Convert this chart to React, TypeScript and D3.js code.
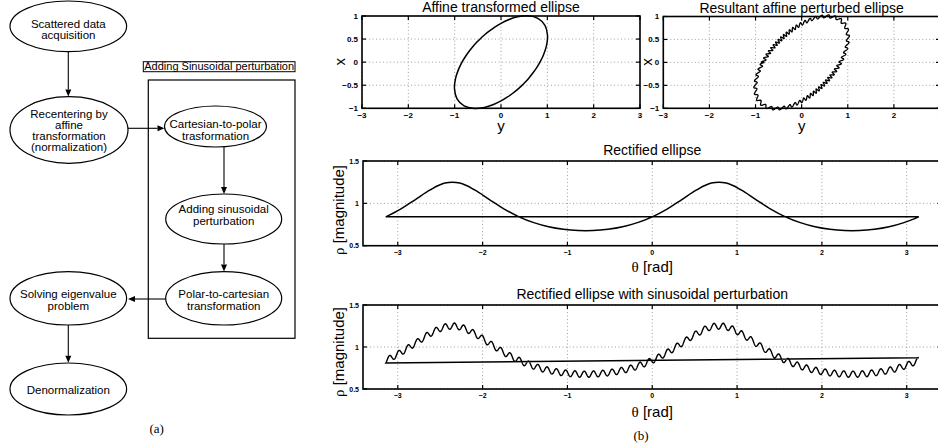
import React from "react";
import * as d3 from "d3";

const W = 938;
const H = 448;
const SANS = "'Liberation Sans', Arial, Helvetica, sans-serif";
const SERIF = "'Liberation Serif', 'Times New Roman', serif";

// flowchart labels (panel a)
const nodeLabels = [
  ["Scattered data", "acquisition"],
  ["Recentering by", "affine", "transformation", "(normalization)"],
  ["Cartesian-to-polar", "trasformation"],
  ["Adding sinusoidal", "perturbation"],
  ["Polar-to-cartesian", "transformation"],
  ["Solving eigenvalue", "problem"],
  ["Denormalization"],
];
const groupLabel = "Adding Sinusoidal perturbation";

// rectified ellipse rho(theta), every 10 degrees
const thetaDeg = [
  -180, -170, -160, -150, -140, -130, -120, -110, -100, -90, -80, -70, -60,
  -50, -40, -30, -20, -10, 0, 10, 20, 30, 40, 50, 60, 70, 80, 90, 100, 110,
  120, 130, 140, 150, 160, 170, 180,
];
const rhoValues = [
  0.841, 0.933, 1.045, 1.159, 1.239, 1.239, 1.159, 1.045, 0.933, 0.841, 0.772,
  0.723, 0.693, 0.678, 0.678, 0.693, 0.723, 0.772, 0.841, 0.933, 1.045, 1.159,
  1.239, 1.239, 1.159, 1.045, 0.933, 0.841, 0.772, 0.723, 0.693, 0.678, 0.678,
  0.693, 0.723, 0.772, 0.841,
];
// the sinusoidal perturbation as seen in the bottom plot
const rippleCycles = 57.5;
const rippleAmp = 0.037;
const ripplePhase = -2.59;

const ellXTicks = [-3, -2, -1, 0, 1, 2, 3];
const ellYTicks = [-1, -0.5, 0, 0.5, 1];
const rectXTicks = [-3, -2, -1, 0, 1, 2, 3];
const rectYTicks = [0.5, 1, 1.5];

const rad = (d: number) => (d * Math.PI) / 180;
const base = thetaDeg.map((t, i) => ({ theta: rad(t), rho: rhoValues[i] }));

// catmull-rom through the read samples (periodic), to put the ripple on
function rhoAt(theta: number) {
  const n = rhoValues.length - 1;
  const step = (2 * Math.PI) / n;
  let u = (theta + Math.PI) / step;
  let i = Math.min(Math.floor(u), n - 1);
  const t = u - i;
  const p = (k: number) => rhoValues[((k % n) + n) % n];
  const p0 = p(i - 1), p1 = p(i), p2 = p(i + 1), p3 = p(i + 2);
  return (
    0.5 *
    (2 * p1 +
      (-p0 + p2) * t +
      (2 * p0 - 5 * p1 + 4 * p2 - p3) * t * t +
      (-p0 + 3 * p1 - 3 * p2 + p3) * t * t * t)
  );
}
const perturbed = d3.range(0, 1441).map((i) => {
  const theta = -Math.PI + (i * 2 * Math.PI) / 1440;
  return {
    theta,
    rho: rhoAt(theta) + rippleAmp * Math.sin(rippleCycles * theta + ripplePhase),
  };
});

const fmt = (v: number) => String(v).replace("-", "\u2212");

type Box = { left: number; right: number; top: number; bottom: number };

function Panel(props: {
  box: Box;
  xDomain: [number, number];
  yDomain: [number, number];
  xTicks: number[];
  yTicks: number[];
  tickFont: number;
  title: string;
  titleY: number;
  xLabel: React.ReactNode;
  xLabelY: number;
  yLabel: React.ReactNode;
  yLabelX: number;
  yLabelY: number;
  draw: (x: d3.ScaleLinear<number, number>, y: d3.ScaleLinear<number, number>) => React.ReactNode;
}) {
  const { box } = props;
  const x = d3.scaleLinear().domain(props.xDomain).range([box.left, box.right]);
  const y = d3.scaleLinear().domain(props.yDomain).range([box.bottom, box.top]);
  const cx = (box.left + box.right) / 2;
  const tl = 4;
  return (
    <g>
      {props.xTicks.map((t) => (
        <line key={"gx" + t} x1={x(t)} x2={x(t)} y1={box.top} y2={box.bottom}
          stroke="#888" strokeWidth={0.8} strokeDasharray="1 2.5" />
      ))}
      {props.yTicks.map((t) => (
        <line key={"gy" + t} x1={box.left} x2={box.right} y1={y(t)} y2={y(t)}
          stroke="#888" strokeWidth={0.8} strokeDasharray="1 2.5" />
      ))}
      {props.draw(x, y)}
      {props.xTicks.map((t) => (
        <g key={"tx" + t}>
          <line x1={x(t)} x2={x(t)} y1={box.bottom} y2={box.bottom - tl} stroke="#000" strokeWidth={1.2} />
          <line x1={x(t)} x2={x(t)} y1={box.top} y2={box.top + tl} stroke="#000" strokeWidth={1.2} />
          <text x={x(t)} y={box.bottom + props.tickFont + 2} textAnchor="middle"
            fontSize={props.tickFont} fontWeight="bold" fontFamily={SANS}>{fmt(t)}</text>
        </g>
      ))}
      {props.yTicks.map((t) => (
        <g key={"ty" + t}>
          <line x1={box.left} x2={box.left + tl} y1={y(t)} y2={y(t)} stroke="#000" strokeWidth={1.2} />
          <line x1={box.right} x2={box.right - tl} y1={y(t)} y2={y(t)} stroke="#000" strokeWidth={1.2} />
          <text x={box.left - 4} y={y(t) + props.tickFont * 0.36} textAnchor="end"
            fontSize={props.tickFont} fontWeight="bold" fontFamily={SANS}>{fmt(t)}</text>
        </g>
      ))}
      <rect x={box.left} y={box.top} width={box.right - box.left} height={box.bottom - box.top}
        fill="none" stroke="#000" strokeWidth={1.6} />
      <text x={cx} y={props.titleY} textAnchor="middle" fontSize={14} fontFamily={SANS}>{props.title}</text>
      <text x={cx} y={props.xLabelY} textAnchor="middle" fontSize={15} fontFamily={SANS}>{props.xLabel}</text>
      <text transform={`translate(${props.yLabelX},${props.yLabelY}) rotate(-90)`} textAnchor="middle"
        fontSize={15} fontFamily={SANS}>{props.yLabel}</text>
    </g>
  );
}

// flowchart layout
const nodes = [
  { cx: 68.3, cy: 26.3, rx: 58.3, ry: 25.3, y0: 27.5, lh: 11 },
  { cx: 69, cy: 130, rx: 59, ry: 33.3, y0: 117.5, lh: 11.1 },
  { cx: 215.5, cy: 126.5, rx: 51, ry: 20.5, y0: 127.5, lh: 12.3 },
  { cx: 223.7, cy: 219, rx: 58, ry: 25, y0: 212.5, lh: 12.6 },
  { cx: 223.7, cy: 298.3, rx: 58, ry: 26.7, y0: 297.5, lh: 12.6 },
  { cx: 68.3, cy: 298.3, rx: 58.3, ry: 26.7, y0: 297.5, lh: 12.6 },
  { cx: 68.3, cy: 389, rx: 58.3, ry: 26, y0: 393.5, lh: 12 },
];
const arrows = [
  [68.3, 51.6, 68.3, 96.5],
  [128, 128.3, 164.5, 128.3],
  [224, 146.5, 224, 194],
  [224, 244, 224, 271.5],
  [165.7, 299, 128, 299],
  [68.3, 325, 68.3, 362.7],
];

function Arrow({ a }: { a: number[] }) {
  const [x1, y1, x2, y2] = a;
  const ang = Math.atan2(y2 - y1, x2 - x1);
  const L = 7, hw = 3;
  const bx = x2 - L * Math.cos(ang), by = y2 - L * Math.sin(ang);
  const px = -Math.sin(ang) * hw, py = Math.cos(ang) * hw;
  return (
    <g>
      <line x1={x1} y1={y1} x2={bx} y2={by} stroke="#000" strokeWidth={1.1} />
      <path d={`M${x2},${y2}L${bx + px},${by + py}L${bx - px},${by - py}Z`} fill="#000" />
    </g>
  );
}

export default function App() {
  const topBoxL = { left: 362, right: 640, top: 16, bottom: 108.3 };
  const topBoxR = { left: 663.3, right: 940, top: 16.5, bottom: 108.3 };
  const midBox = { left: 363, right: 941.5, top: 161, bottom: 245.7 };
  const botBox = { left: 363, right: 941.5, top: 305, bottom: 389 };

  const ellipseXY = (pts: { theta: number; rho: number }[]) =>
    pts.map((d) => [d.rho * Math.cos(d.theta), d.rho * Math.sin(d.theta)] as [number, number]);

  const thetaLabel = (
    <>
      <tspan fontFamily={SERIF}>θ</tspan> [rad]
    </>
  );
  const rhoLabel = (
    <>
      <tspan fontFamily={SERIF}>ρ</tspan> [magnitude]
    </>
  );

  return (
    <svg width={W} height={H} style={{ position: "absolute", left: 0, top: 0, background: "#fff" }}>
      <rect width={W} height={H} fill="#fff" />
      {/* (a) flowchart */}
      <rect x={143.3} y={61.7} width={151.7} height={10} fill="none" stroke="#000" strokeWidth={1} />
      <text x={219.2} y={70.3} textAnchor="middle" fontSize={11} fontFamily={SANS}>{groupLabel}</text>
      <rect x={148.3} y={80} width={146.7} height={258.3} fill="none" stroke="#000" strokeWidth={1.2} />
      {nodes.map((n, i) => (
        <g key={"n" + i}>
          <ellipse cx={n.cx} cy={n.cy} rx={n.rx} ry={n.ry} fill="#fff" stroke="#000" strokeWidth={1.2} />
          {nodeLabels[i].map((s, j) => (
            <text key={j} x={n.cx} y={n.y0 + j * n.lh} textAnchor="middle" fontSize={11.5} fontFamily={SANS}>{s}</text>
          ))}
        </g>
      ))}
      {arrows.map((a, i) => <Arrow key={"a" + i} a={a} />)}
      <text x={156.7} y={432.5} textAnchor="middle" fontSize={13} fontFamily={SERIF}>(a)</text>

      {/* (b) plots */}
      <Panel box={topBoxL} xDomain={[-3, 3]} yDomain={[-1, 1]} xTicks={ellXTicks} yTicks={ellYTicks}
        tickFont={8} title="Affine transformed ellipse" titleY={12} xLabel="y" xLabelY={131}
        yLabel="x" yLabelX={345} yLabelY={61.7}
        draw={(x, y) => (
          <path d={d3.line().x((p) => x(p[0])).y((p) => y(p[1])).curve(d3.curveCatmullRomClosed)(ellipseXY(base.slice(0, -1))) || ""}
            fill="none" stroke="#000" strokeWidth={1.5} />
        )} />
      <Panel box={topBoxR} xDomain={[-3, 3]} yDomain={[-1, 1]} xTicks={ellXTicks} yTicks={ellYTicks}
        tickFont={8} title="Resultant affine perturbed ellipse" titleY={12.5} xLabel="y" xLabelY={131}
        yLabel="x" yLabelX={652} yLabelY={62}
        draw={(x, y) => (
          <path d={(d3.line().x((p) => x(p[0])).y((p) => y(p[1])))(ellipseXY(perturbed)) + "Z"}
            fill="none" stroke="#000" strokeWidth={1.3} />
        )} />
      <Panel box={midBox} xDomain={[-3.41, 3.41]} yDomain={[0.5, 1.5]} xTicks={rectXTicks} yTicks={rectYTicks}
        tickFont={7} title="Rectified ellipse" titleY={155} xLabel={thetaLabel} xLabelY={272}
        yLabel={rhoLabel} yLabelX={344} yLabelY={210}
        draw={(x, y) => (
          <path d={(d3.line<{ theta: number; rho: number }>().x((d) => x(d.theta)).y((d) => y(d.rho)).curve(d3.curveCatmullRom))(base) + "Z"}
            fill="none" stroke="#000" strokeWidth={1.5} />
        )} />
      <Panel box={botBox} xDomain={[-3.41, 3.41]} yDomain={[0.5, 1.5]} xTicks={rectXTicks} yTicks={rectYTicks}
        tickFont={7} title="Rectified ellipse with sinusoidal perturbation" titleY={298.5} xLabel={thetaLabel} xLabelY={416.5}
        yLabel={rhoLabel} yLabelX={344} yLabelY={352}
        draw={(x, y) => (
          <path d={(d3.line<{ theta: number; rho: number }>().x((d) => x(d.theta)).y((d) => y(d.rho)))(perturbed) + "Z"}
            fill="none" stroke="#000" strokeWidth={1.4} />
        )} />
      <text x={641} y={440} textAnchor="middle" fontSize={13} fontFamily={SERIF}>(b)</text>
    </svg>
  );
}
